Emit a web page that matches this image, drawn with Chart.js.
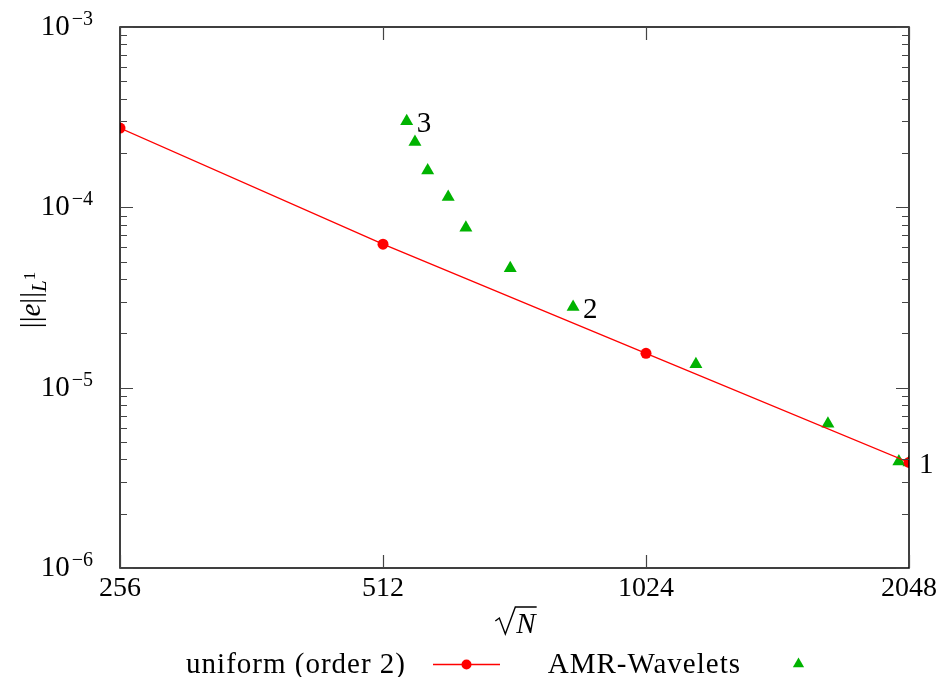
<!DOCTYPE html>
<html>
<head>
<meta charset="utf-8">
<script src="https://cdn.jsdelivr.net/npm/chart.js@4/dist/chart.umd.min.js"></script>
<style>
html,body{margin:0;padding:0;background:#fff;}
#wrap{width:939px;height:677px;}
</style>
</head>
<body>
<div id="wrap"><canvas id="c" width="939" height="677"></canvas></div>
<script>
// ---- data ----
const xTicks = [256, 512, 1024, 2048];
const yTicks = [1e-6, 1e-5, 1e-4, 1e-3];
const yTickExp = ['\u22126', '\u22125', '\u22124', '\u22123'];
const uniformN = [256, 512, 1024, 2048];
const uniformErr = [2.75e-4, 6.25e-5, 1.55e-5, 3.85e-6];
const amrN = [545, 557, 576, 608, 637, 716, 845, 1168, 1654, 1994, 2048];
const amrErr = [3.0e-4, 2.3e-4, 1.6e-4, 1.14e-4, 7.7e-5, 4.6e-5, 2.8e-5, 1.35e-5, 6.3e-6, 3.9e-6, 3.85e-6];
const amrLabels = ['3', '', '', '', '', '', '2', '', '', '', '1'];
const seriesNames = ['uniform (order 2)', 'AMR-Wavelets'];

const RED = '#ff0000', GREEN = '#00b300';
const SERIF = '"Liberation Serif", "DejaVu Serif", serif';
const FS = 28;

const framePlugin = {
  id: 'frame',
  afterDraw(chart) {
    const ctx = chart.ctx, a = chart.chartArea;
    const xs = chart.scales.x, ys = chart.scales.y;
    ctx.save();
    ctx.strokeStyle = '#000';
    ctx.lineWidth = 1.5;
    ctx.strokeRect(a.left, a.top, a.right - a.left, a.bottom - a.top);
    ctx.lineWidth = 1.2;
    ctx.strokeStyle = '#444';
    for (let k = -6; k <= -3; k++) {
      for (let m = 1; m <= 9; m++) {
        const v = m * Math.pow(10, k);
        if (v > 1.0001e-3) break;
        const py = Math.round(ys.getPixelForValue(v)) + 0.5;
        const len = m === 1 ? 13 : 7;
        ctx.beginPath();
        ctx.moveTo(a.left, py); ctx.lineTo(a.left + len, py);
        ctx.moveTo(a.right, py); ctx.lineTo(a.right - len, py);
        ctx.stroke();
      }
    }
    xTicks.forEach(v => {
      const px = Math.round(xs.getPixelForValue(v)) + 0.5;
      ctx.beginPath();
      ctx.moveTo(px, a.bottom); ctx.lineTo(px, a.bottom - 13);
      ctx.moveTo(px, a.top); ctx.lineTo(px, a.top + 13);
      ctx.stroke();
    });
    // y tick labels 10^k
    ctx.fillStyle = '#000';
    ctx.textBaseline = 'alphabetic';
    yTicks.forEach((v, i) => {
      const py = ys.getPixelForValue(v);
      ctx.font = '20px ' + SERIF;
      const ew = ctx.measureText(yTickExp[i]).width;
      const xr = a.left - 27;
      ctx.textAlign = 'left';
      ctx.fillText(yTickExp[i], xr - ew, py - 2);
      ctx.font = '29px ' + SERIF;
      ctx.textAlign = 'right';
      ctx.fillText('10', xr - ew - 2, py + 8);
    });
    ctx.restore();
  }
};

const annotPlugin = {
  id: 'annot',
  afterDatasetsDraw(chart) {
    const ctx = chart.ctx;
    const xs = chart.scales.x, ys = chart.scales.y;
    ctx.save();
    ctx.fillStyle = '#000';
    ctx.font = '29px ' + SERIF;
    ctx.textBaseline = 'middle';
    ctx.textAlign = 'left';
    amrLabels.forEach((t, i) => {
      if (!t) return;
      ctx.fillText(t, xs.getPixelForValue(amrN[i]) + 10, ys.getPixelForValue(amrErr[i]) + 3);
    });
    ctx.restore();
  }
};

const titlesPlugin = {
  id: 'titles',
  afterDraw(chart) {
    const ctx = chart.ctx, a = chart.chartArea;
    ctx.save();
    ctx.fillStyle = '#000';
    ctx.strokeStyle = '#000';
    // x title: sqrt(N)
    const cx = (a.left + a.right) / 2 + 1;
    const by = 633;
    ctx.font = 'italic 29px ' + SERIF;
    ctx.textBaseline = 'alphabetic';
    const nw = ctx.measureText('N').width;
    const rw = 21;
    const x0 = cx - (rw + nw) / 2;
    ctx.lineWidth = 1.4;
    ctx.lineJoin = 'miter';
    ctx.beginPath();
    ctx.moveTo(x0, by - 12);
    ctx.lineTo(x0 + 4, by - 15);
    ctx.lineTo(x0 + 10, by + 1);
    ctx.lineTo(x0 + rw - 1, by - 26);
    ctx.lineTo(x0 + rw + nw + 1, by - 26);
    ctx.stroke();
    ctx.fillText('N', x0 + rw, by);

    // y title: ||e||_{L^1}
    ctx.translate(40, 300);
    ctx.rotate(-Math.PI / 2);
    const parts = [
      {t: '||', f: '29px ' + SERIF, dy: 0},
      {t: 'e', f: 'italic 29px ' + SERIF, dy: 0},
      {t: '||', f: '29px ' + SERIF, dy: 0},
      {t: 'L', f: 'italic 21px ' + SERIF, dy: 6},
      {t: '1', f: '17px ' + SERIF, dy: -5}
    ];
    let total = 0;
    parts.forEach(p => { ctx.font = p.f; p.w = ctx.measureText(p.t).width; total += p.w; });
    let px = -total / 2;
    parts.forEach(p => { ctx.font = p.f; ctx.fillText(p.t, px, p.dy); px += p.w; });
    ctx.restore();

    // legend
    ctx.save();
    const ly = 664;
    ctx.font = '29px ' + SERIF;
    ctx.letterSpacing = '1px';
    ctx.fillStyle = '#000';
    ctx.textBaseline = 'middle';
    ctx.textAlign = 'right';
    ctx.fillText(seriesNames[0], 406, ly + 1);
    ctx.fillText(seriesNames[1], 741, ly + 1);
    ctx.strokeStyle = RED; ctx.lineWidth = 1.3;
    ctx.beginPath(); ctx.moveTo(433, ly + 0.5); ctx.lineTo(500, ly + 0.5); ctx.stroke();
    ctx.fillStyle = RED;
    ctx.beginPath(); ctx.arc(466.5, ly + 0.5, 5, 0, Math.PI * 2); ctx.fill();
    ctx.fillStyle = GREEN;
    ctx.beginPath();
    const r = 6.5;
    ctx.moveTo(798.5, ly - r);
    ctx.lineTo(798.5 + r * 0.866, ly + r * 0.5);
    ctx.lineTo(798.5 - r * 0.866, ly + r * 0.5);
    ctx.closePath(); ctx.fill();
    ctx.restore();
  }
};

new Chart(document.getElementById('c'), {
  type: 'scatter',
  data: {
    datasets: [
      {
        label: seriesNames[0],
        data: uniformN.map((n, i) => ({x: n, y: uniformErr[i]})),
        showLine: true,
        borderColor: RED,
        backgroundColor: RED,
        borderWidth: 1.3,
        pointRadius: 5.5,
        pointStyle: 'circle',
        pointBorderWidth: 0,
        order: 2
      },
      {
        label: seriesNames[1],
        data: amrN.map((n, i) => ({x: n, y: amrErr[i]})),
        showLine: false,
        borderColor: GREEN,
        backgroundColor: GREEN,
        pointRadius: 7.5,
        pointStyle: 'triangle',
        pointBorderWidth: 0,
        order: 3
      }
    ]
  },
  options: {
    responsive: false,
    animation: false,
    layout: {padding: {top: 27, right: 30, left: 0, bottom: 0}},
    plugins: {legend: {display: false}, tooltip: {enabled: false}},
    scales: {
      x: {
        type: 'logarithmic',
        min: 256, max: 2048,
        afterBuildTicks: s => { s.ticks = xTicks.map(v => ({value: v})); },
        afterFit: s => { s.height = 109; s.paddingLeft = 0; s.paddingRight = 0; },
        ticks: {
          callback: v => String(v),
          font: {family: SERIF, size: FS},
          color: '#000',
          padding: 4,
          maxRotation: 0,
          autoSkip: false
        },
        grid: {display: false, drawTicks: false},
        border: {display: false}
      },
      y: {
        type: 'logarithmic',
        min: 1e-6, max: 1e-3,
        afterBuildTicks: s => { s.ticks = yTicks.map(v => ({value: v})); },
        afterFit: s => { s.width = 120; s.paddingTop = 0; s.paddingBottom = 0; },
        ticks: {display: false},
        grid: {display: false, drawTicks: false},
        border: {display: false}
      }
    }
  },
  plugins: [framePlugin, annotPlugin, titlesPlugin]
});
</script>
</body>
</html>
